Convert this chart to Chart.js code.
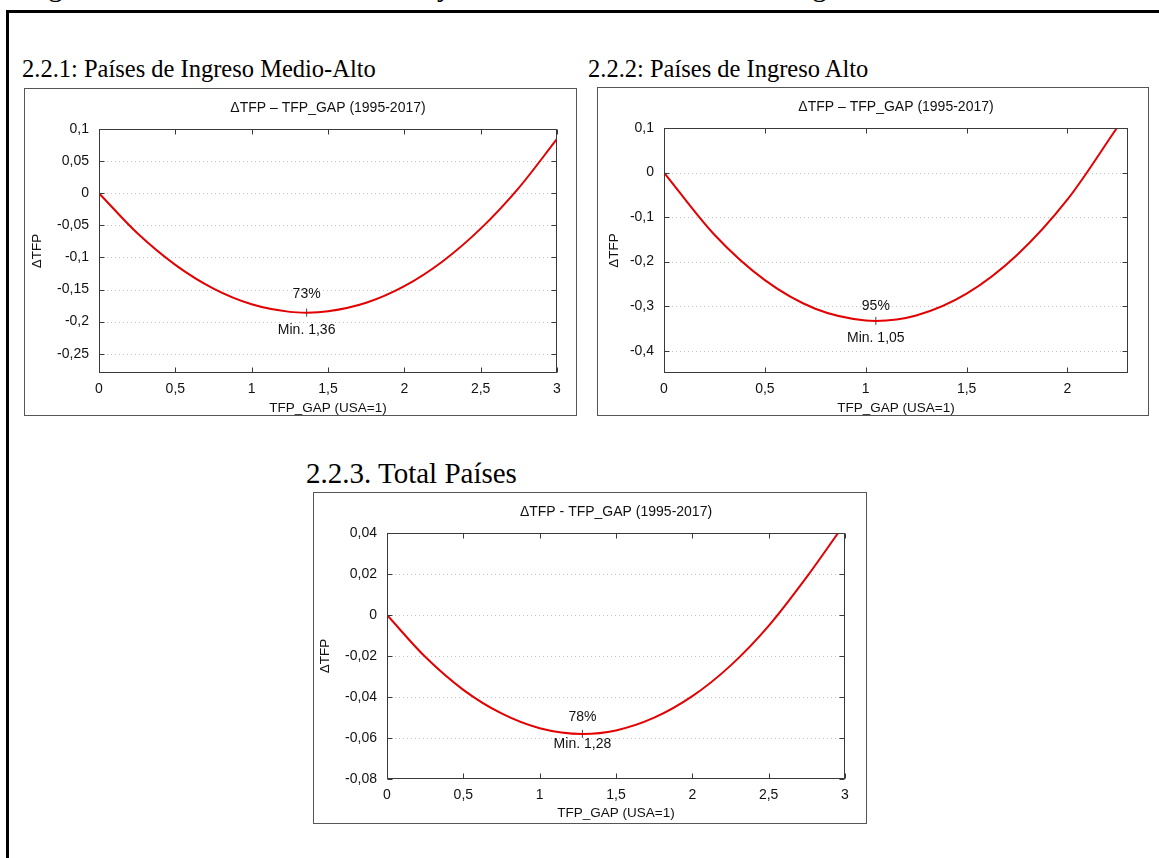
<!DOCTYPE html>
<html>
<head>
<meta charset="utf-8">
<script src="https://cdn.jsdelivr.net/npm/chart.js@4.4.1/dist/chart.umd.min.js"></script>
<style>
  html, body { margin: 0; padding: 0; background: #fff; }
  #page { position: relative; width: 1159px; height: 858px; overflow: hidden; }
  .frame { position: absolute; left: 6px; top: 10px; width: 1200px; height: 900px; border: 3px solid #000; }
  .serif { position: absolute; font-family: "Liberation Serif", "Times New Roman", serif; font-size: 29px; line-height: 29px; color: #000; white-space: nowrap; }
  .sub { font-size: 24.5px; line-height: 24.5px; }
  canvas { position: absolute; }
</style>
</head>
<body>
<div id="page">
  <div class="serif" style="left:24px; top:-28px;">Figura 2.2: Relación entre la ΔTFP y el tamaño de la brecha tecnológica</div>
  <div class="frame"></div>
  <div class="serif sub" style="left:22px; top:57px;">2.2.1: Países de Ingreso Medio-Alto</div>
  <div class="serif sub" style="left:588px; top:57px;">2.2.2: Países de Ingreso Alto</div>
  <div class="serif" style="left:306px; top:459px;">2.2.3. Total Países</div>
  <canvas id="c1" width="553" height="328" style="left:24px; top:88px;"></canvas>
  <canvas id="c2" width="552" height="329" style="left:597px; top:87px;"></canvas>
  <canvas id="c3" width="554" height="332" style="left:313px; top:492px;"></canvas>
</div>
<script>
// ---- values ----
const ticksX13 = [0, 0.5, 1, 1.5, 2, 2.5, 3];
const ticksX2 = [0, 0.5, 1, 1.5, 2];
const ticksY1 = [0.1, 0.05, 0, -0.05, -0.1, -0.15, -0.2, -0.25];
const ticksY2 = [0.1, 0, -0.1, -0.2, -0.3, -0.4];
const ticksY3 = [0.04, 0.02, 0, -0.02, -0.04, -0.06, -0.08];

// 2.2.1 Medio-Alto
const gap1 = [0, 0.25, 0.5, 0.75, 1, 1.25, 1.36, 1.5, 1.75, 2, 2.25, 2.5, 2.75, 3];
const dtfp1 = [0, -0.0621, -0.1116, -0.1486, -0.1730, -0.1848, -0.1860, -0.1840, -0.1707, -0.1448, -0.1063, -0.0552, 0.0084, 0.0846];
// 2.2.2 Alto
const gap2 = [0, 0.25, 0.5, 0.75, 1, 1.05, 1.25, 1.5, 1.75, 2, 2.245];
const dtfp2 = [0, -0.1397, -0.2416, -0.3058, -0.3322, -0.3330, -0.3209, -0.2718, -0.1850, -0.0604, 0.100];
// 2.2.3 Total
const gap3 = [0, 0.25, 0.5, 0.75, 1, 1.28, 1.5, 1.75, 2, 2.25, 2.5, 2.75, 2.955];
const dtfp3 = [0, -0.0204, -0.0365, -0.0480, -0.0552, -0.0580, -0.0563, -0.0501, -0.0396, -0.0247, -0.0053, 0.0186, 0.0400];

const minGap = [1.36, 1.05, 1.28];
const minDtfp = [-0.186, -0.333, -0.058];
const pctLabels = ['73%', '95%', '78%'];
const chartTitles = ['ΔTFP – TFP_GAP (1995-2017)', 'ΔTFP – TFP_GAP (1995-2017)', 'ΔTFP - TFP_GAP (1995-2017)'];

const SANS = "'Liberation Sans', Arial, Helvetica, sans-serif";
const INK = '#111';
const RED = '#e30000';
const fmt = v => String(+v.toFixed(4)).replace('.', ',');

// frame, dotted grid, inward ticks, texts
const panelDecor = {
  id: 'panelDecor',
  beforeDatasetsDraw(chart) {
    const { ctx, chartArea: a, scales: { y } } = chart;
    ctx.save();
    ctx.strokeStyle = '#c4c4c4'; ctx.lineWidth = 1; ctx.setLineDash([1, 3]);
    y.ticks.forEach(t => {
      const yp = Math.round(y.getPixelForValue(t.value)) + 0.5;
      if (yp <= a.top + 1 || yp >= a.bottom - 1) return;
      ctx.beginPath(); ctx.moveTo(a.left, yp); ctx.lineTo(a.right, yp); ctx.stroke();
    });
    ctx.restore();
  },
  afterDatasetsDraw(chart, args, o) {
    const { ctx, chartArea: a, scales: { x, y }, width, height } = chart;
    ctx.save();
    // outer panel box
    ctx.strokeStyle = '#555'; ctx.lineWidth = 1;
    ctx.strokeRect(0.5, 0.5, width - 1, height - 1);
    // plot frame
    const L = Math.round(a.left) + 0.5, R = Math.round(a.right) - 0.5;
    const T = Math.round(a.top) + 0.5, B = Math.round(a.bottom) - 0.5;
    ctx.strokeStyle = '#3a3a3a';
    ctx.strokeRect(L, T, R - L, B - T);
    // inward ticks
    ctx.beginPath();
    x.ticks.forEach(t => {
      const xp = Math.round(x.getPixelForValue(t.value)) + 0.5;
      ctx.moveTo(xp, B); ctx.lineTo(xp, B - 5);
      ctx.moveTo(xp, T); ctx.lineTo(xp, T + 5);
    });
    y.ticks.forEach(t => {
      const yp = Math.round(y.getPixelForValue(t.value)) + 0.5;
      ctx.moveTo(L, yp); ctx.lineTo(L + 5, yp);
      ctx.moveTo(R, yp); ctx.lineTo(R - 5, yp);
    });
    ctx.stroke();
    // texts
    const cx = (a.left + a.right) / 2, cy = (a.top + a.bottom) / 2;
    ctx.fillStyle = INK; ctx.textAlign = 'center'; ctx.textBaseline = 'middle';
    ctx.font = `14px ${SANS}`;
    ctx.fillText(o.title, cx, a.top - 20.5);
    ctx.font = `13.5px ${SANS}`;
    ctx.fillText('TFP_GAP (USA=1)', cx, a.bottom + o.xTitleGap);
    ctx.save();
    ctx.translate(a.left - o.yTitleGap, cy); ctx.rotate(-Math.PI / 2);
    ctx.fillText('ΔTFP', 0, 0);
    ctx.restore();
    // minimum annotation
    const px = x.getPixelForValue(o.minX), py = y.getPixelForValue(o.minY);
    ctx.font = `14px ${SANS}`;
    ctx.fillText(o.pct, px, py + o.pctDy);
    ctx.fillText('Min. ' + fmt(o.minX), px, py + o.minDy);
    ctx.restore();
  },
};

function panel(id, gx, gy, xr, yr, xt, yt, i, geo) {
  return new Chart(document.getElementById(id), {
    type: 'scatter',
    data: { datasets: [
      { data: gx.map((v, k) => ({ x: v, y: gy[k] })), showLine: true, borderColor: RED, borderWidth: 2,
        pointRadius: 0, cubicInterpolationMode: 'monotone' },
      { data: [{ x: minGap[i], y: minDtfp[i] }], pointStyle: 'line', rotation: 90, pointRadius: 4,
        borderColor: '#444', borderWidth: 1, showLine: false },
    ] },
    options: {
      responsive: false, animation: false, devicePixelRatio: 1,
      layout: { padding: { left: 0, top: geo.T, right: geo.R, bottom: 0 } },
      scales: {
        x: { type: 'linear', min: xr[0], max: xr[1],
          afterBuildTicks: s => { s.ticks = xt.map(v => ({ value: v })); },
          afterFit: s => { s.height = geo.B; },
          grid: { display: false, drawTicks: false }, border: { display: false },
          ticks: { padding: 8, color: INK, font: { family: SANS, size: 14 }, maxRotation: 0, callback: v => fmt(v) } },
        y: { type: 'linear', min: yr[0], max: yr[1],
          afterBuildTicks: s => { s.ticks = yt.map(v => ({ value: v })); },
          afterFit: s => { s.width = geo.L; },
          grid: { display: false, drawTicks: false }, border: { display: false },
          ticks: { padding: 10, color: INK, font: { family: SANS, size: 14 }, callback: v => fmt(v) } },
      },
      plugins: {
        legend: { display: false }, tooltip: { enabled: false },
        panelDecor: { title: chartTitles[i], yTitleGap: geo.yTitleGap, xTitleGap: geo.xTitleGap,
          minX: minGap[i], minY: minDtfp[i], pct: pctLabels[i], pctDy: geo.pctDy, minDy: geo.minDy },
      },
    },
    plugins: [panelDecor],
  });
}

panel('c1', gap1, dtfp1, [0, 3], [-0.28, 0.1], ticksX13, ticksY1, 0,
  { L: 75, R: 20, T: 41, B: 43, yTitleGap: 62, xTitleGap: 35, pctDy: -19, minDy: 17 });
panel('c2', gap2, dtfp2, [0, 2.3], [-0.45, 0.1], ticksX2, ticksY2, 1,
  { L: 67, R: 21, T: 41, B: 43, yTitleGap: 50, xTitleGap: 35, pctDy: -15, minDy: 17 });
panel('c3', gap3, dtfp3, [0, 3], [-0.08, 0.04], ticksX13, ticksY3, 2,
  { L: 74, R: 22, T: 41, B: 45, yTitleGap: 62, xTitleGap: 34, pctDy: -17, minDy: 10 });
</script>
</body>
</html>
